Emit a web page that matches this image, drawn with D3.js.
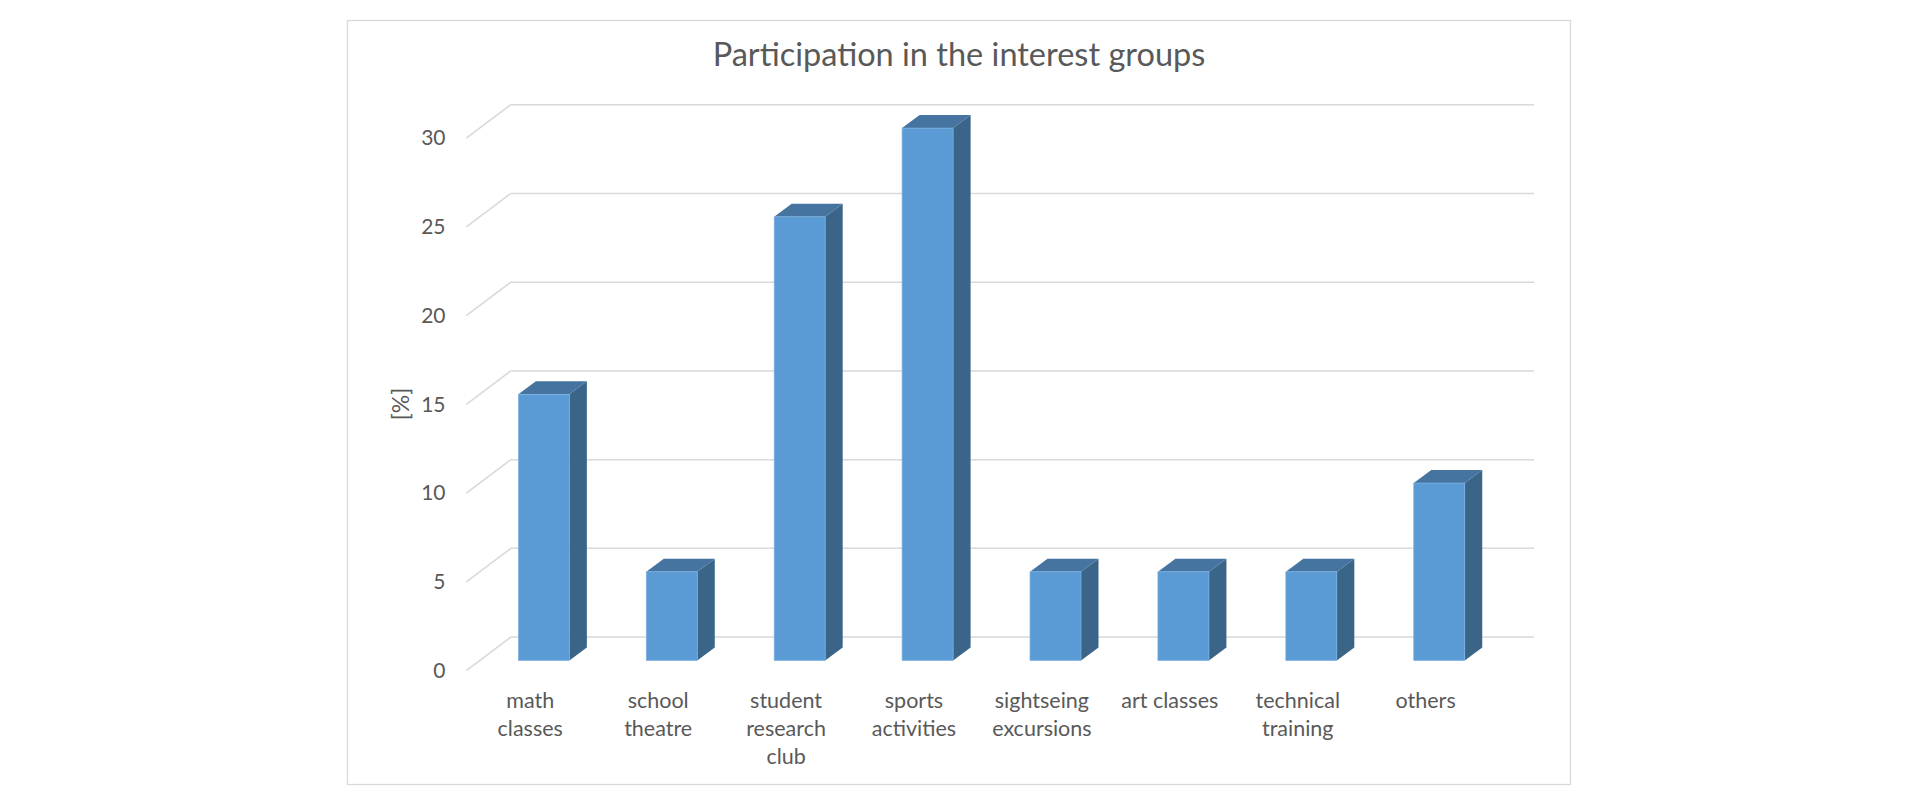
<!DOCTYPE html>
<html>
<head>
<meta charset="utf-8">
<script src="https://cdn.jsdelivr.net/npm/d3@7"></script>
<style>
  html, body { margin: 0; background: #fff; }
  svg { display: block; }
  text { font-family: Lato, sans-serif; fill: #595959; }
</style>
</head>
<body>
<svg id="chart" width="1920" height="800"></svg>
<script>
const categories = ['math classes', 'school theatre', 'student research club', 'sports activities', 'sightseing excursions', 'art classes', 'technical training', 'others']
const labelLines = [['math', 'classes'], ['school', 'theatre'], ['student', 'research', 'club'], ['sports', 'activities'], ['sightseing', 'excursions'], ['art classes'], ['technical', 'training'], ['others']]
const values = [15, 5, 25, 30, 5, 5, 5, 10]
const yTicks = [0, 5, 10, 15, 20, 25, 30]

const svg = d3.select('#chart')

// chart frame
svg.append('rect')
  .attr('x', 347.5).attr('y', 20.5)
  .attr('width', 1223).attr('height', 764)
  .attr('fill', '#fff').attr('stroke', '#d9d9d9').attr('stroke-width', 1.3)

// floor front edge, the walls sit behind it by depth
const depthX = 44.5, depthY = 33.5
const x = d3.scaleBand().domain(categories).range([466.3, 1489.6])
const y = d3.scaleLinear().domain([0, 30]).range([670.6, 138.2])

// Gridlines
svg.append('g')
    .attr('fill', 'none')
    .attr('stroke', '#d9d9d9')
    .attr('stroke-width', 1.5)
  .selectAll('path')
  .data(yTicks)
  .enter().append('path')
    .attr('d', d => `M${x.range()[0]},${y(d)}L${x.range()[0] + depthX},${y(d) - depthY}L${x.range()[1] + depthX},${y(d) - depthY}`)

// Y axis
const yAxis = svg.append('g')
  .attr('transform', 'translate(445.5,0)')
  .call(d3.axisLeft(y).tickValues(yTicks).tickSize(0).tickPadding(0))
yAxis.select('.domain').remove()
yAxis.selectAll('text').attr('font-size', 21).style('font-family', 'Lato, sans-serif').style('fill', '#595959')

// 3D bars
const barWidth = 51, barDepthX = 17.5, barDepthY = 13, barShift = 13.6, baseY = 660.5
const yBar = v => y(v) - y(0) + baseY
const bars = svg.append('g').selectAll('g')
  .data(categories)
  .enter().append('g')
  .attr('transform', d => `translate(${x(d) + x.bandwidth() / 2 + barShift - barWidth / 2},0)`)

bars.append('path')
  .attr('fill', '#3a6589')
  .attr('d', (d, i) => `M${barWidth},${baseY}L${barWidth + barDepthX},${baseY - barDepthY}L${barWidth + barDepthX},${yBar(values[i]) - barDepthY}L${barWidth},${yBar(values[i])}Z`)
bars.append('path')
  .attr('fill', '#44749f')
  .attr('d', (d, i) => `M0,${yBar(values[i])}L${barDepthX},${yBar(values[i]) - barDepthY}L${barWidth + barDepthX},${yBar(values[i]) - barDepthY}L${barWidth},${yBar(values[i])}Z`)
bars.append('rect')
  .attr('fill', '#5b9bd5')
  .attr('stroke', '#7fb1e0')
  .attr('stroke-width', 0.7)
  .attr('width', barWidth)
  .attr('y', (d, i) => yBar(values[i]))
  .attr('height', (d, i) => baseY - yBar(values[i]))

// Category labels
svg.append('g')
    .attr('text-anchor', 'middle')
    .attr('font-size', 21.5)
  .selectAll('text')
  .data(categories)
  .enter().append('text')
    .attr('x', d => x(d) + x.bandwidth() / 2)
    .selectAll('tspan')
    .data((d, i) => labelLines[i].map(line => ({ line, cx: x(d) + x.bandwidth() / 2 })))
    .enter().append('tspan')
      .attr('x', d => d.cx)
      .attr('y', (d, i) => 707.5 + i * 28.3)
      .text(d => d.line)

// Titles
svg.append('text')
  .attr('x', 959).attr('y', 66)
  .attr('text-anchor', 'middle')
  .attr('font-size', 32.5)
  .text('Participation in the interest groups')

svg.append('text')
  .attr('transform', 'translate(409,404) rotate(-90)')
  .attr('text-anchor', 'middle')
  .attr('font-size', 23)
  .text('[%]')
</script>
</body>
</html>
